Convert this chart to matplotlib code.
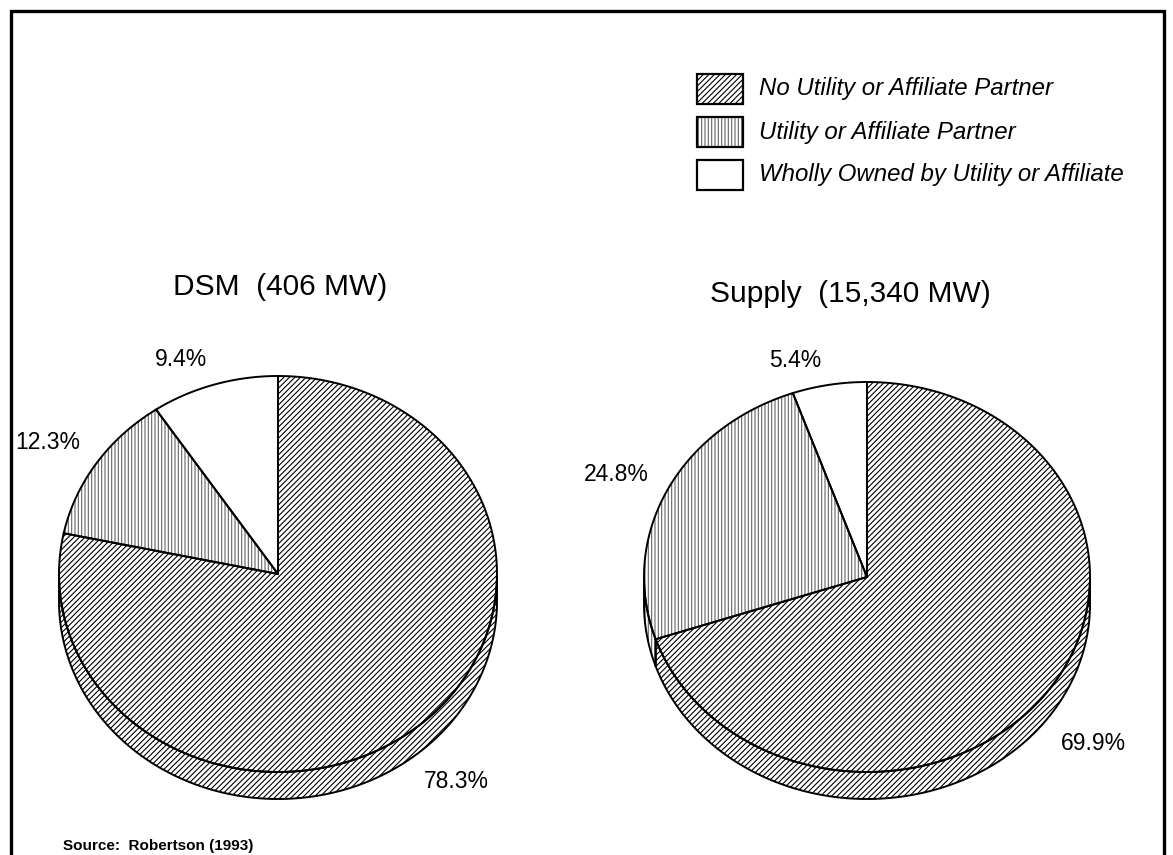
import numpy as np
import matplotlib.pyplot as plt
from matplotlib.patches import Polygon, Rectangle

# Data
categories = ["No Utility or Affiliate Partner",
              "Utility or Affiliate Partner",
              "Wholly Owned by Utility or Affiliate"]
dsm_share = [78.3, 12.3, 9.4]
supply_share = [69.9, 24.8, 5.4]
pie_titles = ["DSM  (406 MW)", "Supply  (15,340 MW)"]
source_note = "Source:  Robertson (1993)"

# Styles (hatch, hatch colour) per category
styles = [("//////", "black"), ("|||||", "0.4"), ("", "black")]

plt.rcParams["font.family"] = ["Liberation Sans", "DejaVu Sans"]
plt.rcParams["hatch.linewidth"] = 0.8

W, H = 1173, 855
fig = plt.figure(figsize=(W / 100, H / 100), dpi=100)
ax = fig.add_axes([0, 0, 1, 1])
ax.set_xlim(0, W)
ax.set_ylim(H, 0)
ax.axis("off")

# layout of the two pies (pixel space)
pies = [
    dict(vals=dsm_share, title=pie_titles[0], cx=278, cy=574, rx=219, ry=198,
         title_xy=(280, 287),
         label_xy=[(456, 781), (48, 442), (181, 359)]),
    dict(vals=supply_share, title=pie_titles[1], cx=867, cy=577, rx=223, ry=195,
         title_xy=(850, 294),
         label_xy=[(1093, 743), (616, 474), (795, 360)]),
]
depth = 27


def arc(cx, cy, rx, ry, a0, a1, n=200):
    t = np.radians(np.linspace(a0, a1, n))
    return np.column_stack([cx + rx * np.cos(t), cy - ry * np.sin(t)])


def hatched_poly(pts, i):
    hatch, hc = styles[i]
    if hatch:
        ax.add_patch(Polygon(pts, closed=True, facecolor="white", edgecolor=hc,
                             hatch=hatch, lw=0, zorder=2))
    else:
        ax.add_patch(Polygon(pts, closed=True, facecolor="white", lw=0, zorder=2))
    ax.add_patch(Polygon(pts, closed=True, facecolor="none", edgecolor="black",
                         lw=1.4, zorder=3))


for p in pies:
    vals = np.array(p["vals"], dtype=float)
    frac = vals / vals.sum()
    bounds = 90 - 360 * np.concatenate([[0], np.cumsum(frac)])
    cx, cy, rx, ry = p["cx"], p["cy"], p["rx"], p["ry"]

    # side band (visible lower half)
    for i in range(len(vals)):
        hi, lo = bounds[i], bounds[i + 1]
        for s0, s1 in [(-180, 0), (-540, -360), (180, 360)]:
            a, b = max(lo, s0), min(hi, s1)
            if b > a:
                top = arc(cx, cy, rx, ry, a, b)
                bot = top[::-1] + [0, depth]
                hatched_poly(np.vstack([top, bot]), i)

    # top face
    for i in range(len(vals)):
        pts = np.vstack([[cx, cy], arc(cx, cy, rx, ry, bounds[i], bounds[i + 1])])
        hatched_poly(pts, i)

    for v, (lx, ly) in zip(vals, p["label_xy"]):
        ax.text(lx, ly, f"{v:.1f}%", fontsize=16.5, ha="center", va="center", zorder=5)
    ax.text(*p["title_xy"], p["title"], fontsize=21.5, ha="center", va="center")

# legend
for i, name in enumerate(categories):
    y = 89 + 43 * i
    hatch, hc = styles[i]
    ax.add_patch(Rectangle((697, y - 15), 46, 30, facecolor="white", edgecolor=hc,
                           hatch=hatch or None, lw=0))
    ax.add_patch(Rectangle((697, y - 15), 46, 30, facecolor="none",
                           edgecolor="black", lw=1.6))
    ax.text(759, y, name, fontsize=17.3, style="italic", ha="left", va="center")

ax.text(63, 846, source_note, fontsize=11, fontweight="bold", ha="left", va="center")

# frame
ax.plot([11, 11, 1164, 1164], [H + 5, 11, 11, H + 5], color="black", lw=2.4,
        solid_joinstyle="miter")

fig.savefig("out.png", dpi=100)
